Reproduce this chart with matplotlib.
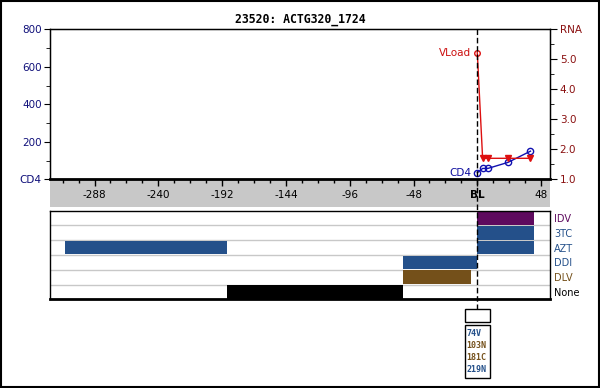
import matplotlib
matplotlib.use('Agg')

import matplotlib.pyplot as plt
from matplotlib.patches import Rectangle
from matplotlib.lines import Line2D
from matplotlib.ticker import MultipleLocator, FixedLocator
from matplotlib.transforms import blended_transform_factory

# --- data ---
title = "23520: ACTG320_1724"

cd4_weeks = [0, 4, 8, 23, 40]
cd4_values = [35, 58, 58, 90, 150]

vl_weeks = [0, 4, 8, 23, 40]
vl_values = [5.22, 1.70, 1.70, 1.70, 1.70]

x_ticks = [-288, -240, -192, -144, -96, -48, 0, 48]
x_labels = ["-288", "-240", "-192", "-144", "-96", "-48", "BL", "48"]
cd4_ticks = [0, 200, 400, 600, 800]
cd4_labels = ["CD4", "200", "400", "600", "800"]
rna_ticks = [1, 2, 3, 4, 5, 6]
rna_labels = ["1.0", "2.0", "3.0", "4.0", "5.0", "RNA"]

# drug rows, bottom to top
drugs = ["None", "DLV", "DDI", "AZT", "3TC", "IDV"]
drug_colors = ["#000000", "#74501a", "#24508a", "#24508a", "#24508a", "#5e0a5e"]
drug_start = {"None": [-188], "DLV": [-56], "DDI": [-56], "AZT": [-310, 0], "3TC": [0], "IDV": [0]}
drug_stop = {"None": [-56], "DLV": [-5], "DDI": [0], "AZT": [-188, 43], "3TC": [43], "IDV": [43]}

mutations = ["74V", "103N", "181C", "219N"]
mutation_colors = ["#24508a", "#74501a", "#74501a", "#24508a"]

W, H = 600, 388
def fy(py):
    # pixel row -> figure fraction
    return 1 - py / H

fig = plt.figure(figsize=(W / 100, H / 100), dpi=100)
fig.patch.set_facecolor("white")
fig.patches.append(Rectangle((0.5 / W, fy(386.5)), 598 / W, 386 / H, transform=fig.transFigure,
                             fill=False, edgecolor="black", linewidth=1.5, zorder=-2))

xlim = (-321.5, 54.7)
left, width = 50 / W, 500 / W

# --- top panel: CD4 and viral load ---
ax1 = fig.add_axes([left, fy(179.3), width, (179.3 - 29.3) / H])
ax2 = ax1.twinx()
ax1.set_xlim(*xlim)
ax1.set_ylim(0, 800)
ax2.set_ylim(1, 6)

ax1.plot(cd4_weeks, cd4_values, color="#1010b0", lw=1, marker="o", ms=4.5,
         mfc="none", mec="#1010b0", mew=1, zorder=3)
ax2.plot(vl_weeks, vl_values, color="#dd1010", lw=1, zorder=3)
ax2.plot(vl_weeks[:1], vl_values[:1], ls="none", marker="o", ms=4, mfc="none",
         mec="#dd1010", mew=1)
ax2.plot(vl_weeks[1:], vl_values[1:], ls="none", marker="v", ms=4.5, color="#dd1010")

ax1.annotate("CD4", (cd4_weeks[0], cd4_values[0]), xytext=(-6, 0), textcoords="offset pixels",
             ha="right", va="center", color="#1010a0", fontsize=7.5)
ax2.annotate("VLoad", (vl_weeks[0], vl_values[0]), xytext=(-6, 0), textcoords="offset pixels",
             ha="right", va="center", color="#cc1010", fontsize=7.5)

for sp in ax2.spines.values():
    sp.set_linewidth(1)
ax2.spines["bottom"].set_linewidth(2)

ax1.xaxis.set_major_locator(FixedLocator(x_ticks))
ax1.xaxis.set_minor_locator(MultipleLocator(12))
ax1.set_xticklabels(x_labels)
ax1.tick_params(axis="x", which="major", direction="out", length=5, width=1, pad=3,
                labelsize=7.5, colors="black")
ax1.tick_params(axis="x", which="minor", direction="out", length=3, width=1)
for lab in ax1.get_xticklabels():
    if lab.get_text() == "BL":
        lab.set_fontweight("bold")

ax1.yaxis.set_major_locator(FixedLocator(cd4_ticks))
ax1.yaxis.set_minor_locator(MultipleLocator(100))
ax1.set_yticklabels(cd4_labels)
ax1.tick_params(axis="y", which="major", length=4, pad=2, labelsize=7.5, labelcolor="#10107a")
ax1.tick_params(axis="y", which="minor", length=3)

ax2.yaxis.set_major_locator(FixedLocator(rna_ticks))
ax2.yaxis.set_minor_locator(MultipleLocator(0.5))
ax2.set_yticklabels(rna_labels)
ax2.tick_params(axis="y", which="major", length=5, pad=2, labelsize=7.5, labelcolor="#8a1010")
ax2.tick_params(axis="y", which="minor", length=3)

# grey band behind x tick labels
fig.patches.append(Rectangle((left, fy(207)), width, (207 - 180) / H, transform=fig.transFigure,
                             facecolor="#c8c8c8", edgecolor="none", zorder=-1))

# --- bottom panel: drug regimens ---
ax3 = fig.add_axes([left, fy(299.3), width, (299.3 - 210.7) / H])
ax3.set_xlim(*xlim)
ax3.set_ylim(0, len(drugs))
for i, d in enumerate(drugs):
    for s, e in zip(drug_start[d], drug_stop[d]):
        ax3.barh(i + 0.5, e - s, left=s, height=0.93, color=drug_colors[i], zorder=2)
for i in range(1, len(drugs)):
    ax3.axhline(i, color="#c8c8c8", lw=1, zorder=1)
ax3.set_xticks([])
ax3.yaxis.tick_right()
ax3.set_yticks([i + 0.5 for i in range(len(drugs))])
ax3.set_yticklabels(drugs)
ax3.tick_params(axis="y", length=0, pad=3, labelsize=7)
for lab, c in zip(ax3.get_yticklabels(), drug_colors):
    lab.set_color(c)
for sp in ax3.spines.values():
    sp.set_linewidth(1)
ax3.spines["bottom"].set_linewidth(2)

# baseline dashed line running from the top panel down to the mutation box
bt = blended_transform_factory(ax1.transData, fig.transFigure)
fig.add_artist(Line2D([0, 0], [fy(29.3), fy(309.3)], transform=bt, color="black",
                      lw=1, dashes=(4, 2), zorder=5))

# mutation boxes under baseline
half = 9.2
fig.add_artist(Rectangle((-half, fy(322.3)), 2 * half, (322.3 - 309.3) / H, transform=bt,
                         facecolor="white", edgecolor="black", lw=1))
fig.add_artist(Rectangle((-half, fy(378.3)), 2 * half, (378.3 - 325.3) / H, transform=bt,
                         facecolor="white", edgecolor="black", lw=1))
for k, (m, c) in enumerate(zip(mutations, mutation_colors)):
    fig.text(-half + 1.2, fy(333.3 + k * 12), m, transform=bt, ha="left", va="center",
             color=c, fontsize=6, family="DejaVu Sans Mono", fontweight="bold")

fig.text(0.5, fy(20), title, ha="center", va="center", fontsize=8.3,
         family="DejaVu Sans Mono", fontweight="bold")

fig.savefig("out.png", dpi=100)
